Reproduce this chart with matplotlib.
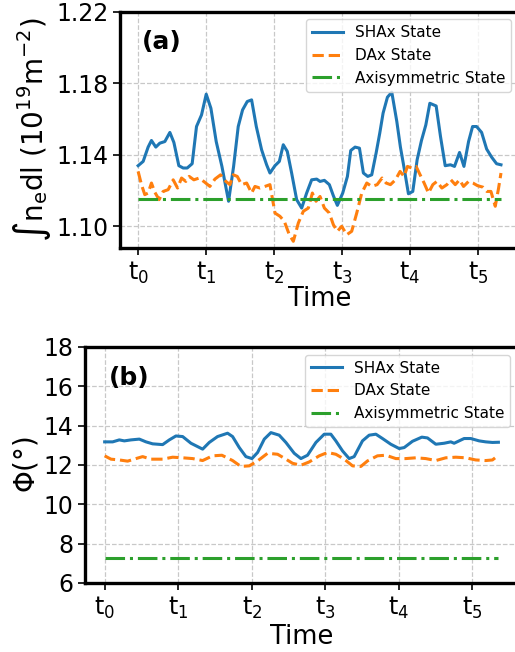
import numpy as np
import matplotlib
matplotlib.use("Agg")
import matplotlib.pyplot as plt

plt.rcParams['mathtext.default'] = 'regular'

# ---- panel (a): line-integrated density ----
t_a_shax = [0.000, 0.074, 0.147, 0.196, 0.260, 0.319, 0.393, 0.467, 0.526, 0.599,
            0.663, 0.722, 0.795, 0.859, 0.933, 1.002, 1.071, 1.149, 1.233, 1.331,
            1.405, 1.473, 1.537, 1.606, 1.670, 1.739, 1.817, 1.891, 1.940, 2.014,
            2.078, 2.136, 2.195, 2.259, 2.333, 2.407, 2.480, 2.554, 2.628, 2.677,
            2.741, 2.814, 2.873, 2.932, 3.011, 3.080, 3.129, 3.193, 3.257, 3.315,
            3.379, 3.438, 3.502, 3.556, 3.605, 3.669, 3.733, 3.807, 3.860, 3.919,
            3.978, 4.042, 4.106, 4.170, 4.234, 4.293, 4.386, 4.450, 4.519, 4.597,
            4.656, 4.730, 4.795, 4.863, 4.922, 4.981, 5.055, 5.129, 5.202, 5.275,
            5.340]
v_a_shax = [1.1339, 1.1363, 1.1443, 1.1480, 1.1443, 1.1465, 1.1474, 1.1525, 1.1469, 1.1339,
            1.1326, 1.1326, 1.1350, 1.1558, 1.1623, 1.1739, 1.1660, 1.1474, 1.1335, 1.1140,
            1.1335, 1.1558, 1.1651, 1.1698, 1.1707, 1.1558, 1.1428, 1.1344, 1.1298, 1.1339,
            1.1363, 1.1456, 1.1419, 1.1298, 1.1149, 1.1102, 1.1186, 1.1260, 1.1264, 1.1251,
            1.1257, 1.1233, 1.1171, 1.1117, 1.1186, 1.1279, 1.1424, 1.1443, 1.1437, 1.1298,
            1.1279, 1.1288, 1.1409, 1.1521, 1.1633, 1.1722, 1.1750, 1.1586, 1.1443, 1.1316,
            1.1182, 1.1195, 1.1372, 1.1480, 1.1567, 1.1688, 1.1673, 1.1502, 1.1339, 1.1344,
            1.1335, 1.1413, 1.1335, 1.1474, 1.1558, 1.1558, 1.1525, 1.1432, 1.1387, 1.1350,
            1.1344]

t_a_dax = [0.000, 0.049, 0.098, 0.147, 0.196, 0.246, 0.309, 0.368, 0.442, 0.516,
           0.580, 0.639, 0.702, 0.751, 0.820, 0.899, 0.982, 1.056, 1.130, 1.213,
           1.292, 1.351, 1.400, 1.459, 1.523, 1.597, 1.670, 1.719, 1.793, 1.866,
           1.940, 2.014, 2.087, 2.151, 2.225, 2.284, 2.358, 2.431, 2.505, 2.564,
           2.618, 2.677, 2.741, 2.814, 2.873, 2.932, 2.996, 3.070, 3.143, 3.217,
           3.291, 3.365, 3.438, 3.517, 3.590, 3.649, 3.713, 3.787, 3.855, 3.914,
           3.964, 4.027, 4.091, 4.150, 4.209, 4.273, 4.337, 4.396, 4.470, 4.544,
           4.603, 4.667, 4.730, 4.789, 4.863, 4.927, 4.996, 5.074, 5.133, 5.192,
           5.256, 5.305, 5.340]
v_a_dax = [1.1307, 1.1233, 1.1177, 1.1186, 1.1242, 1.1190, 1.1149, 1.1195, 1.1205, 1.1260,
           1.1214, 1.1270, 1.1251, 1.1279, 1.1260, 1.1270, 1.1246, 1.1223, 1.1264, 1.1288,
           1.1251, 1.1233, 1.1288, 1.1279, 1.1233, 1.1242, 1.1186, 1.1223, 1.1214, 1.1223,
           1.1233, 1.1074, 1.1056, 1.1028, 1.0953, 1.0916, 1.1019, 1.1084, 1.1102, 1.1186,
           1.1140, 1.1167, 1.1102, 1.1074, 1.1009, 1.0972, 1.1000, 1.0953, 1.0972, 1.1074,
           1.1186, 1.1242, 1.1223, 1.1233, 1.1270, 1.1242, 1.1233, 1.1260, 1.1307, 1.1279,
           1.1335, 1.1326, 1.1335, 1.1288, 1.1242, 1.1186, 1.1233, 1.1251, 1.1214, 1.1233,
           1.1260, 1.1233, 1.1260, 1.1223, 1.1251, 1.1242, 1.1227, 1.1219, 1.1195, 1.1195,
           1.1112, 1.1214, 1.1298]
t_a_axi = [0.0, 5.34]
v_a_axi = [1.1153, 1.1153]

# ---- panel (b): angle ----
t_b_shax = [0.000, 0.109, 0.199, 0.267, 0.358, 0.471, 0.562, 0.652, 0.788, 0.879,
            0.969, 1.060, 1.173, 1.332, 1.422, 1.535, 1.671, 1.739, 1.830, 1.920,
            2.002, 2.079, 2.170, 2.260, 2.373, 2.464, 2.577, 2.668, 2.758, 2.872,
            2.985, 3.075, 3.143, 3.234, 3.324, 3.392, 3.505, 3.596, 3.687, 3.777,
            3.890, 4.004, 4.072, 4.185, 4.312, 4.389, 4.502, 4.615, 4.706, 4.751,
            4.819, 4.887, 4.977, 5.091, 5.181, 5.272, 5.353]
v_b_shax = [13.17, 13.17, 13.27, 13.22, 13.27, 13.31, 13.17, 13.07, 13.03, 13.27,
            13.47, 13.44, 13.10, 12.80, 13.14, 13.44, 13.61, 13.44, 12.88, 12.42,
            12.32, 12.63, 13.31, 13.64, 13.51, 13.14, 12.59, 12.32, 12.49, 13.14,
            13.56, 13.56, 13.22, 12.71, 12.32, 12.42, 13.22, 13.51, 13.56, 13.34,
            13.05, 12.83, 12.88, 13.20, 13.41, 13.37, 13.05, 13.10, 13.17, 13.10,
            13.22, 13.34, 13.34, 13.22, 13.17, 13.14, 13.15]
t_b_dax = [0.000, 0.086, 0.199, 0.312, 0.426, 0.516, 0.630, 0.788, 0.924, 1.060,
           1.196, 1.332, 1.467, 1.594, 1.739, 1.852, 1.966, 2.079, 2.215, 2.351,
           2.464, 2.555, 2.668, 2.781, 2.917, 3.030, 3.143, 3.257, 3.370, 3.483,
           3.573, 3.709, 3.823, 3.958, 4.094, 4.230, 4.366, 4.502, 4.638, 4.774,
           4.909, 5.045, 5.181, 5.272, 5.353]
v_b_dax = [12.46, 12.29, 12.25, 12.19, 12.32, 12.42, 12.29, 12.29, 12.39, 12.36,
           12.32, 12.22, 12.46, 12.49, 12.22, 11.92, 11.95, 12.20, 12.59, 12.54,
           12.29, 12.08, 11.98, 12.15, 12.46, 12.63, 12.54, 12.29, 11.95, 11.92,
           12.20, 12.46, 12.49, 12.32, 12.32, 12.36, 12.32, 12.22, 12.36, 12.39,
           12.36, 12.25, 12.22, 12.25, 12.49]
t_b_axi = [0.0, 5.353]
v_b_axi = [7.24, 7.24]

tick_pos = [0, 1, 2, 3, 4, 5]
tick_lab = ['$t_{%d}$' % i for i in tick_pos]
names = ['SHAx State', 'DAx State', 'Axisymmetric State']

fig = plt.figure(figsize=(5.15, 6.52), dpi=100)
ax1 = fig.add_axes([0.233, 0.620, 0.775, 0.362])
ax2 = fig.add_axes([0.165, 0.106, 0.841, 0.362])

def style(ax, label, ylabel, pad):
    ax.grid(True, ls='--', color='#c8c8c8', lw=0.9)
    ax.set_axisbelow(True)
    for s in ax.spines.values():
        s.set_linewidth(2.4)
    ax.set_xticks(tick_pos)
    ax.set_xticklabels(tick_lab)
    ax.tick_params(labelsize=17, width=1.2, length=5)
    ax.set_xlabel('Time', fontsize=18.5, labelpad=pad)
    ax.set_ylabel(ylabel, fontsize=20, labelpad=2)
    ax.text(0.055, 0.87, label, transform=ax.transAxes, fontsize=18,
            fontweight='bold', ha='left', va='center')
    ax.legend(loc='upper right', fontsize=11, framealpha=0.8)

for ax, sh, da, ax_ in [(ax1, (t_a_shax, v_a_shax), (t_a_dax, v_a_dax), (t_a_axi, v_a_axi)),
                        (ax2, (t_b_shax, v_b_shax), (t_b_dax, v_b_dax), (t_b_axi, v_b_axi))]:
    ax.plot(*sh, color='#1f77b4', lw=2.2, label=names[0])
    ax.plot(*da, color='#ff7f0e', lw=2.2, ls='--', label=names[1])
    ax.plot(*ax_, color='#2ca02c', lw=2.2, ls='-.', label=names[2])

ax1.set_ylim(1.088, 1.22)
ax1.set_yticks([1.10, 1.14, 1.18, 1.22])
ax1.set_yticklabels(['1.10', '1.14', '1.18', '1.22'])
ax2.set_ylim(6, 18)
ax2.set_yticks([6, 8, 10, 12, 14, 16, 18])

style(ax1, '(a)', r'$\int n_e dl\ (10^{19}m^{-2})$', 0)
style(ax2, '(b)', r'$\Phi(\degree)$', 2)

fig.savefig('out.png', dpi=100)
